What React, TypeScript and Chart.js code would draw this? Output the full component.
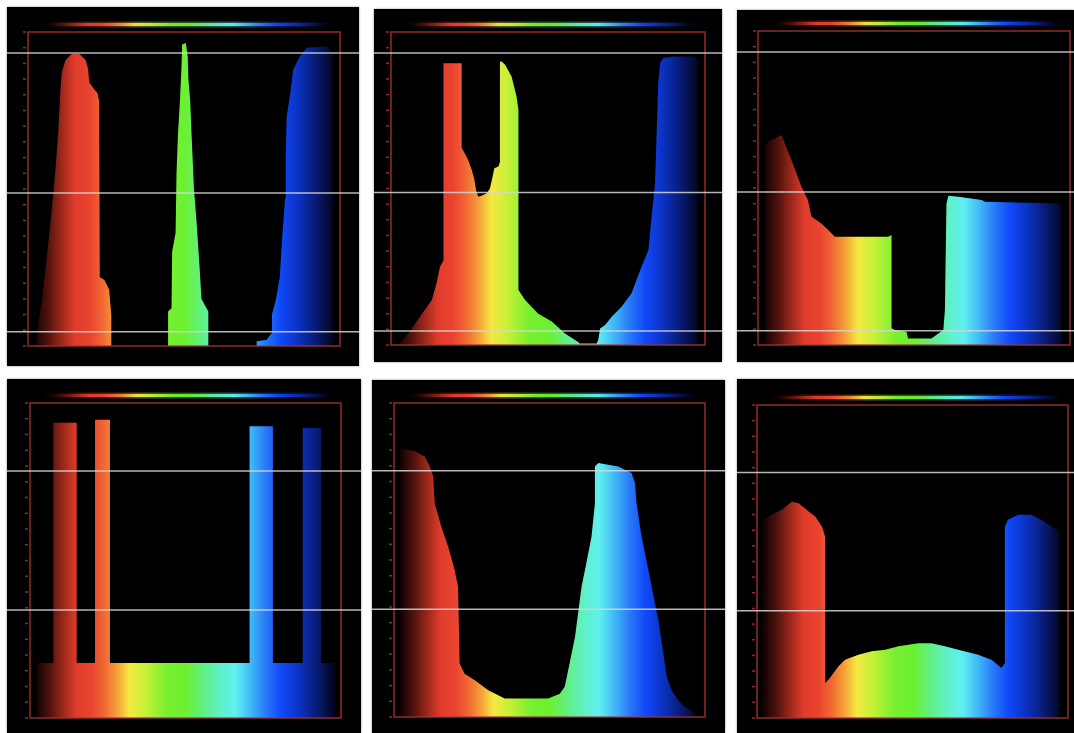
import React, { useEffect, useRef } from "react";
import { Chart, registerables } from "chart.js";

Chart.register(...registerables);

// ---- Data: spectral intensity (x = position along spectrum 0..100, y = intensity 0..100)
const p1X = [2.5, 3.0, 4.5, 6, 7.5, 8.7, 9.7, 10.3, 10.8, 12, 14, 16.5, 18.5, 19.3, 19.6, 21, 22.3, 22.8, 23, 23, 24.5, 26, 26.7, 26.7,
  44.9, 44.9, 46, 46.2, 47.3, 47.6, 48.1, 48.7, 49.2, 49.4, 50.6, 51.2, 51.4, 52, 52.4, 53.2, 54, 55, 55.6, 57.8, 57.8,
  73.3, 73.3, 76.5, 78, 78.2, 79.5, 80.7, 81.5, 82.4, 82.6, 82.9, 84, 85, 87, 89.3, 95.7, 97.9, 97.9];
const p1Y = [0, 5, 15, 28, 42, 55, 68, 80, 87, 91, 93, 93, 91, 88, 84, 82, 80.5, 78, 50, 22, 21, 18, 10, 0,
  0, 11, 12, 30, 36, 55, 68, 78, 89, 96, 96.5, 92, 85, 78, 68, 50, 40, 25, 15, 11, 0,
  0, 1.5, 2, 4, 10, 15, 22, 35, 47, 60, 73, 80, 88, 92, 95, 95.5, 93, 0];

const p2X = [2.3, 5.5, 9.2, 13, 14.5, 15.6, 16.7, 16.7, 22.5, 22.5, 23.6, 24.6, 25.7, 26.5, 27.2, 27.8, 29, 30.5, 31.5, 32.3, 32.9, 34.2, 34.7,
  34.7, 35.2, 36.3, 38.4, 40, 40.6, 40.6, 42.7, 46.9, 51.2, 55.4, 59.7, 60, 65.5, 66, 66.6, 68.2, 70.3, 73.5, 76.6, 79.8, 82, 83, 84.1, 84.6,
  85.1, 85.7, 86.7, 90, 96.8, 97.9, 97.9];
const p2Y = [0, 3.7, 9, 14.4, 19.7, 25, 27, 90, 90, 63, 61, 59, 56, 53, 49, 47.4, 47.8, 48.5, 50, 53.5, 56.5, 57, 58.5,
  90.6, 90.6, 89.6, 85.8, 79.4, 75, 17.6, 14.4, 10, 7.5, 3.7, 0.9, 0.5, 0.5, 1.6, 5.3, 6.4, 9, 12.3, 16.5, 25, 30.4, 41, 51.7, 67.7,
  83.7, 90, 91.7, 92.2, 92.2, 91, 0];

const p3X = [2.1, 2.1, 3.2, 5.3, 7.5, 10.7, 13.9, 16, 17.1, 20.3, 22.5, 24.6, 41.7, 42.8, 42.8, 43.9, 47.6, 48.1, 55.6, 57.8, 59.4, 59.9,
  60.4, 61, 64.2, 71.7, 72.7, 96.3, 97.3, 97.3];
const p3Y = [0, 63, 64.8, 65.8, 66.9, 58.9, 50.4, 46.2, 40.9, 38.7, 36.6, 34.5, 34.5, 35, 5.3, 4.8, 4.2, 2.1, 2.1, 3.7, 4.8, 11,
  45, 47.5, 47.2, 46.2, 45.6, 45.1, 44, 0];

const p4X = [2.1, 2.1, 7.5, 7.5, 15, 15, 20.9, 20.9, 25.7, 25.7, 70.6, 70.6, 78.1, 78.1, 87.7, 87.7, 93.6, 93.6, 98.4, 98.4];
const p4Y = [0, 17.5, 17.5, 93.7, 93.7, 17.5, 17.5, 94.7, 94.7, 17.5, 17.5, 92.6, 92.6, 17.5, 17.5, 92.1, 92.1, 17.5, 17.5, 0];

const p5X = [1.8, 1.8, 2.4, 6.7, 9.9, 11.5, 12.6, 13.1, 15.2, 17.4, 19.5, 20.6, 21.1, 22.7, 26, 30.3, 35.6, 49.6, 53.3, 54.9, 56, 58.2,
  60.3, 61.4, 63.5, 64.6, 64.6, 65.7, 72.1, 76.4, 77.5, 78, 79.6, 81.8, 83.9, 85, 86.6, 87.7, 89.3, 91.4, 93.6, 96.8, 98];
const p5Y = [0, 85, 85.6, 84.6, 83, 79.8, 76.6, 68, 60.6, 54.3, 46.8, 41.5, 17, 13.8, 11.7, 8.5, 5.9, 5.9, 7.4, 9.6, 14.9, 25.5,
  41.5, 46.8, 57.4, 68, 79.8, 80.9, 79.8, 77.7, 74.5, 68, 57.4, 46.8, 36.2, 30.9, 20.2, 12.8, 8.5, 5.3, 3.2, 1.1, 0];

const p6X = [1.6, 1.6, 3.7, 8, 11.2, 13.4, 16.6, 18.7, 20.9, 21.9, 21.9, 23, 26.2, 28.3, 32.6, 36.9, 41.2, 45.5, 51.9, 56.1, 60.4, 64.7,
  71.1, 75.4, 78.6, 79.7, 79.7, 80.7, 84, 88.2, 91.4, 94.7, 96.8, 97.3, 97.3];
const p6Y = [0, 63.3, 64.4, 66.5, 69.1, 68.6, 66, 64.4, 61.2, 58, 11.2, 12.2, 16.5, 18.6, 20.2, 21.3, 21.8, 22.9, 23.9, 23.9, 22.9, 21.8,
  20.2, 18.6, 16, 17.6, 61.2, 63.3, 64.9, 64.9, 63.3, 61.2, 60.1, 58, 0];

// reference levels of the bright horizontal lines (in intensity units)
const topRowLines = [93.3, 48.7, 4.5];
const bottomRowLines = [78.4, 34.3];

// ---- Styles
const spectrumStops: [number, string][] = [
  [0.0, "#080101"],
  [0.02, "#100202"],
  [0.06, "#4a100c"],
  [0.1, "#902418"],
  [0.15, "#e03c2c"],
  [0.2, "#ea4430"],
  [0.24, "#f06a32"],
  [0.28, "#f5a038"],
  [0.32, "#f5e840"],
  [0.37, "#c8f038"],
  [0.44, "#78f030"],
  [0.5, "#6cf030"],
  [0.56, "#60f088"],
  [0.62, "#60f0d0"],
  [0.66, "#60f0f0"],
  [0.71, "#40b8f8"],
  [0.76, "#2878f8"],
  [0.81, "#1048f8"],
  [0.86, "#0c34c8"],
  [0.92, "#081c78"],
  [0.98, "#02041a"],
  [1.0, "#010208"],
];

const FRAME_COLOR = "rgba(170,50,50,0.85)";
const LINE_COLOR = "rgba(215,215,215,0.85)";

type Panel = {
  xs: number[];
  ys: number[];
  left: number;
  top: number;
  width: number;
  height: number;
  pad: { left: number; right: number; top: number; bottom: number };
  lines: number[];
};

const PANELS: Panel[] = [
  { xs: p1X, ys: p1Y, left: 7, top: 7, width: 352, height: 359, pad: { left: 21, right: 19, top: 25, bottom: 20 }, lines: topRowLines },
  { xs: p2X, ys: p2Y, left: 374, top: 9, width: 348, height: 353, pad: { left: 17, right: 17, top: 23, bottom: 17 }, lines: topRowLines },
  { xs: p3X, ys: p3Y, left: 737, top: 10, width: 337, height: 352, pad: { left: 21, right: 4, top: 21, bottom: 17 }, lines: topRowLines },
  { xs: p4X, ys: p4Y, left: 7, top: 379, width: 354, height: 354, pad: { left: 23, right: 20, top: 24, bottom: 15 }, lines: bottomRowLines },
  { xs: p5X, ys: p5Y, left: 372, top: 380, width: 353, height: 353, pad: { left: 22, right: 20, top: 23, bottom: 16 }, lines: bottomRowLines },
  { xs: p6X, ys: p6Y, left: 737, top: 379, width: 337, height: 354, pad: { left: 20, right: 6, top: 26, bottom: 15 }, lines: bottomRowLines },
];

function spectrumGradient(ctx: CanvasRenderingContext2D, x0: number, x1: number) {
  const g = ctx.createLinearGradient(x0, 0, x1, 0);
  spectrumStops.forEach(([o, c]) => g.addColorStop(o, c));
  return g;
}

const panelDeco = {
  id: "panelDeco",
  beforeDraw(chart: any) {
    const { ctx, width, height } = chart;
    ctx.save();
    ctx.fillStyle = "#000";
    ctx.fillRect(0, 0, width, height);
    ctx.restore();
  },
  afterDatasetsDraw(chart: any, _args: any, opts: any) {
    const { ctx, chartArea, width } = chart;
    const ys = chart.scales.y;
    const { left, right, top, bottom } = chartArea;
    ctx.save();
    // frame
    ctx.strokeStyle = FRAME_COLOR;
    ctx.lineWidth = 1.5;
    ctx.strokeRect(left, top, right - left, bottom - top);
    // left ticks
    ctx.lineWidth = 1.5;
    for (let v = 0; v <= 100; v += 5) {
      const py = ys.getPixelForValue(v);
      ctx.beginPath();
      ctx.moveTo(left - 5, py);
      ctx.lineTo(left - 2, py);
      ctx.stroke();
    }
    // rainbow bar
    const bx0 = left + (right - left) * 0.05;
    const bx1 = left + (right - left) * 0.97;
    const by = top - 7.5;
    ctx.lineCap = "round";
    ctx.globalAlpha = 0.35;
    ctx.lineWidth = 6;
    ctx.strokeStyle = spectrumGradient(ctx, bx0, bx1);
    ctx.beginPath();
    ctx.moveTo(bx0, by);
    ctx.lineTo(bx1, by);
    ctx.stroke();
    ctx.globalAlpha = 0.95;
    ctx.lineWidth = 3;
    ctx.beginPath();
    ctx.moveTo(bx0, by);
    ctx.lineTo(bx1, by);
    ctx.stroke();
    ctx.globalAlpha = 1;
    // bright horizontal lines
    ctx.strokeStyle = LINE_COLOR;
    ctx.lineWidth = 1.5;
    (opts.lines || []).forEach((v: number) => {
      const py = ys.getPixelForValue(v);
      ctx.beginPath();
      ctx.moveTo(0, py);
      ctx.lineTo(width, py);
      ctx.stroke();
    });
    ctx.restore();
  },
};

function SpectrumPanel({ panel }: { panel: Panel }) {
  const ref = useRef<HTMLCanvasElement | null>(null);
  useEffect(() => {
    if (!ref.current) return;
    const points = panel.xs.map((x, i) => ({ x, y: panel.ys[i] }));
    const chart = new Chart(ref.current, {
      type: "line",
      data: {
        datasets: [
          {
            data: points,
            fill: "origin",
            borderWidth: 0,
            pointRadius: 0,
            tension: 0,
            backgroundColor: (c: any) => {
              const ch = c.chart;
              if (!ch.chartArea) return "transparent";
              const xs = ch.scales.x;
              return spectrumGradient(ch.ctx, xs.getPixelForValue(0), xs.getPixelForValue(100));
            },
          },
        ],
      },
      options: {
        animation: false,
        responsive: false,
        events: [],
        layout: { padding: panel.pad },
        plugins: {
          legend: { display: false },
          tooltip: { enabled: false },
          panelDeco: { lines: panel.lines },
        } as any,
        scales: {
          x: { type: "linear", min: 0, max: 100, display: false },
          y: { type: "linear", min: 0, max: 100, display: false },
        },
      },
      plugins: [panelDeco],
    } as any);
    return () => chart.destroy();
  }, [panel]);
  return (
    <canvas
      ref={ref}
      width={panel.width}
      height={panel.height}
      style={{
        position: "absolute",
        left: panel.left,
        top: panel.top,
        width: panel.width,
        height: panel.height,
        background: "#000",
        boxShadow: "0 0 2px rgba(0,0,0,0.45)",
      }}
    />
  );
}

export default function App() {
  return (
    <div
      style={{
        position: "fixed",
        left: 0,
        top: 0,
        width: 1074,
        height: 733,
        background: "#fff",
        overflow: "hidden",
      }}
    >
      {PANELS.map((p, i) => (
        <SpectrumPanel key={i} panel={p} />
      ))}
    </div>
  );
}
